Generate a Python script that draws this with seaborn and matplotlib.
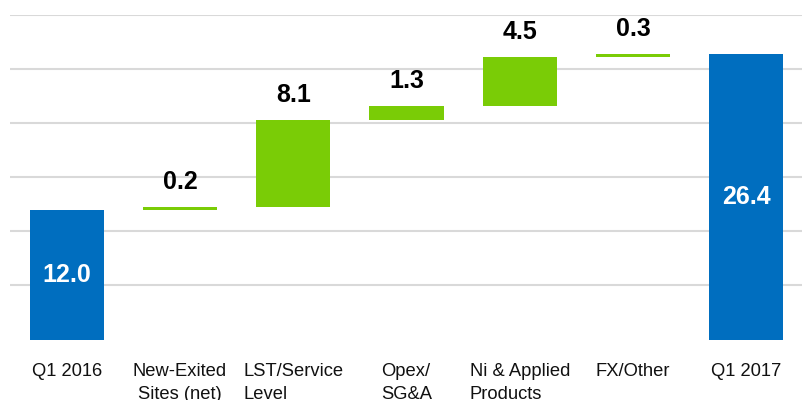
import matplotlib
matplotlib.use("Agg")
import matplotlib.pyplot as plt
import seaborn as sns
import numpy as np
import pandas as pd

categories = ["Q1 2016", "New-Exited\nSites (net)", "LST/Service\nLevel", "Opex/\nSG&A",
              "Ni & Applied\nProducts", "FX/Other", "Q1 2017"]
changes = [12.0, 0.2, 8.1, 1.3, 4.5, 0.3, 26.4]
is_total = [True, False, False, False, False, False, True]
label_align = ["center", "center", "left", "left", "left", "center", "center"]

BLUE = "#006EBF"
GREEN = "#7ACC06"

# waterfall bases
bottoms = []
running = 0.0
for v, t in zip(changes, is_total):
    if t:
        bottoms.append(0.0)
        running = v
    else:
        bottoms.append(running)
        running += v

df = pd.DataFrame({"cat": categories, "val": changes, "base": bottoms})
colors = [BLUE if t else GREEN for t in is_total]

sns.set_theme(style="white")
plt.rcParams["font.family"] = ["Liberation Sans", "DejaVu Sans"]

fig = plt.figure(figsize=(8.03, 4.0), dpi=100)
ax = fig.add_axes([10 / 803, 1 - 339.5 / 400, 793 / 803, (339.5 - 14.7) / 400])

sns.barplot(data=df, x="cat", y="val", color=GREEN, order=categories,
            bottom=df["base"].values, width=0.655, saturation=1, ax=ax, zorder=3,
            errorbar=None)
for patch, c in zip(ax.patches, colors):
    patch.set_facecolor(c)
    patch.set_edgecolor("none")

ax.set_ylim(0, 30)
ax.set_xlim(-0.5, 6.5)
ax.set_yticks([5, 10, 15, 20, 25, 30])
ax.yaxis.grid(True, color="#D9D9D9", linewidth=1.5)
ax.set_axisbelow(True)
ax.tick_params(axis="y", left=False, labelleft=False)
ax.tick_params(axis="x", length=0, pad=17, labelsize=13.2, colors="#111111")
for lbl, al in zip(ax.get_xticklabels(), label_align):
    lbl.set_multialignment(al)
    lbl.set_linespacing(1.42)
ax.set_xlabel("")
ax.set_ylabel("")
for s in ax.spines.values():
    s.set_visible(False)

for i, (v, b, t) in enumerate(zip(changes, bottoms, is_total)):
    if t:
        ax.text(i, b + v / 2, f"{v:.1f}", ha="center", va="center", color="white",
                fontsize=18, fontweight="bold")
    else:
        ax.annotate(f"{v:.1f}", xy=(i, b + v), xytext=(0, 13), textcoords="offset points",
                    ha="center", va="baseline", color="black", fontsize=18,
                    fontweight="bold", annotation_clip=False)

fig.savefig("out.png", dpi=100)
